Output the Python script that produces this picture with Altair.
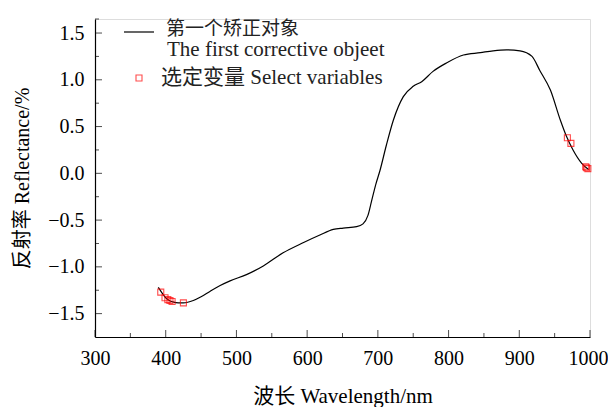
import altair as alt
import pandas as pd

# spectrum of the first corrective object
wavelength = [389.5, 394, 400, 405, 410, 418, 425, 439, 450, 463, 477, 491, 515, 538,
              566, 595, 618, 637, 651, 670, 679, 686, 691, 697, 703, 712, 722, 736,
              750, 762, 778, 797, 821, 845, 863, 882, 901, 918, 929, 944, 958, 967,
              976, 988, 998]
reflectance = [-1.22, -1.27, -1.33, -1.36, -1.375, -1.385, -1.385, -1.36, -1.32, -1.26,
               -1.20, -1.15, -1.08, -0.99, -0.85, -0.74, -0.66, -0.60, -0.585, -0.57,
               -0.54, -0.45, -0.30, -0.12, 0.03, 0.30, 0.57, 0.82, 0.93, 0.98, 1.09,
               1.18, 1.265, 1.29, 1.31, 1.32, 1.31, 1.25, 1.10, 0.89, 0.57, 0.39, 0.25,
               0.11, 0.04]

# selected variables
sel_wavelength = [393, 399, 403, 406, 409, 425, 968, 973, 994, 995, 997]
sel_reflectance = [-1.27, -1.33, -1.35, -1.36, -1.37, -1.385, 0.38, 0.32, 0.07, 0.06, 0.05]

x_major = [300, 400, 500, 600, 700, 800, 900, 1000]
x_minor = [350, 450, 550, 650, 750, 850, 950]
y_major = [-1.5, -1.0, -0.5, 0.0, 0.5, 1.0, 1.5]
y_minor = [-1.25, -0.75, -0.25, 0.25, 0.75, 1.25, 1.65]

legend_line1 = "第一个矫正对象"
legend_line2 = "The first corrective objeet"
legend_sel = "选定变量 Select variables"

FONT = "Liberation Serif, Noto Sans CJK SC"
W, H = 495, 318
XD = [300, 1000]
YD = [-1.75, 1.65]

spec_df = pd.DataFrame({"w": wavelength, "r": reflectance})
sel_df = pd.DataFrame({"w": sel_wavelength, "r": sel_reflectance})

xs = alt.Scale(domain=XD, nice=False, zero=False)
ys = alt.Scale(domain=YD, nice=False, zero=False)

line = alt.Chart(spec_df).mark_line(color="black", strokeWidth=1.2, interpolate="monotone").encode(
    x=alt.X("w:Q", scale=xs, title="波长 Wavelength/nm",
            axis=alt.Axis(values=x_major, format="d", ticks=False, tickSize=0, grid=False,
                          labelFlush=False, labelOverlap=False,
                          labelOffset={"condition": {"test": "datum.value === 1000", "value": -2},
                                       "value": 0},
                          domainColor="black", domainWidth=1.2, labelPadding=11,
                          labelFontSize=20, labelFont=FONT, labelColor="black",
                          titleFont=FONT, titleFontSize=21, titleFontWeight="normal",
                          titleColor="black", titlePadding=17)),
    y=alt.Y("r:Q", scale=ys, title="反射率 Reflectance/%",
            axis=alt.Axis(values=y_major, format=".1f", ticks=False, tickSize=0, grid=False,
                          labelFlush=False, labelOverlap=False,
                          domainColor="black", domainWidth=1.2, labelPadding=11,
                          labelFontSize=20, labelFont=FONT, labelColor="black",
                          titleFont=FONT, titleFontSize=20, titleFontWeight="normal",
                          titleColor="black", titlePadding=15)),
)

pts = alt.Chart(sel_df).mark_point(shape="square", color="red", filled=False,
                                   size=36, strokeWidth=1.1).encode(
    x=alt.X("w:Q", scale=xs), y=alt.Y("r:Q", scale=ys))

# inward tick marks
xt_major = alt.Chart(pd.DataFrame({"t": x_major})).mark_tick(
    color="black", thickness=1, size=7, orient="vertical").encode(
    x=alt.X("t:Q", scale=xs), y=alt.value(H - 3.5))
xt_minor = alt.Chart(pd.DataFrame({"t": x_minor})).mark_tick(
    color="black", thickness=1, size=4, orient="vertical").encode(
    x=alt.X("t:Q", scale=xs), y=alt.value(H - 2))
yt_major = alt.Chart(pd.DataFrame({"t": y_major})).mark_tick(
    color="black", thickness=1, size=7, orient="horizontal").encode(
    y=alt.Y("t:Q", scale=ys), x=alt.value(3.5))
yt_minor = alt.Chart(pd.DataFrame({"t": y_minor})).mark_tick(
    color="black", thickness=1, size=4, orient="horizontal").encode(
    y=alt.Y("t:Q", scale=ys), x=alt.value(2))

# legend
one = pd.DataFrame({"a": [0]})
leg_line = alt.Chart(one).mark_rule(color="black", strokeWidth=1.2).encode(
    x=alt.value(29), x2=alt.value(59), y=alt.value(13))
leg_t1 = alt.Chart(one).mark_text(
    text=legend_line1, font=FONT, fontSize=19, align="left", baseline="middle", color="#222").encode(
    x=alt.value(71), y=alt.value(10))
leg_t2 = alt.Chart(one).mark_text(
    text=legend_line2, font=FONT, fontSize=21, align="left", baseline="middle", color="#222").encode(
    x=alt.value(72), y=alt.value(31))
leg_pt = alt.Chart(one).mark_point(
    shape="square", color="red", filled=False, size=36, strokeWidth=1.1).encode(
    x=alt.value(44), y=alt.value(59))
leg_t3 = alt.Chart(one).mark_text(
    text=legend_sel, font=FONT, fontSize=21, align="left", baseline="middle", color="#222").encode(
    x=alt.value(66), y=alt.value(59))

chart = alt.layer(line, pts, xt_major, xt_minor, yt_major, yt_minor,
                  leg_line, leg_t1, leg_t2, leg_pt, leg_t3).properties(
    width=W, height=H,
    autosize=alt.AutoSizeParams(type="none"),
    padding={"left": 87, "top": 11, "right": 18, "bottom": 70},
).configure_view(stroke=None).configure(background="white")

chart.save("out.html", embed_options={"renderer": "svg", "actions": False})
